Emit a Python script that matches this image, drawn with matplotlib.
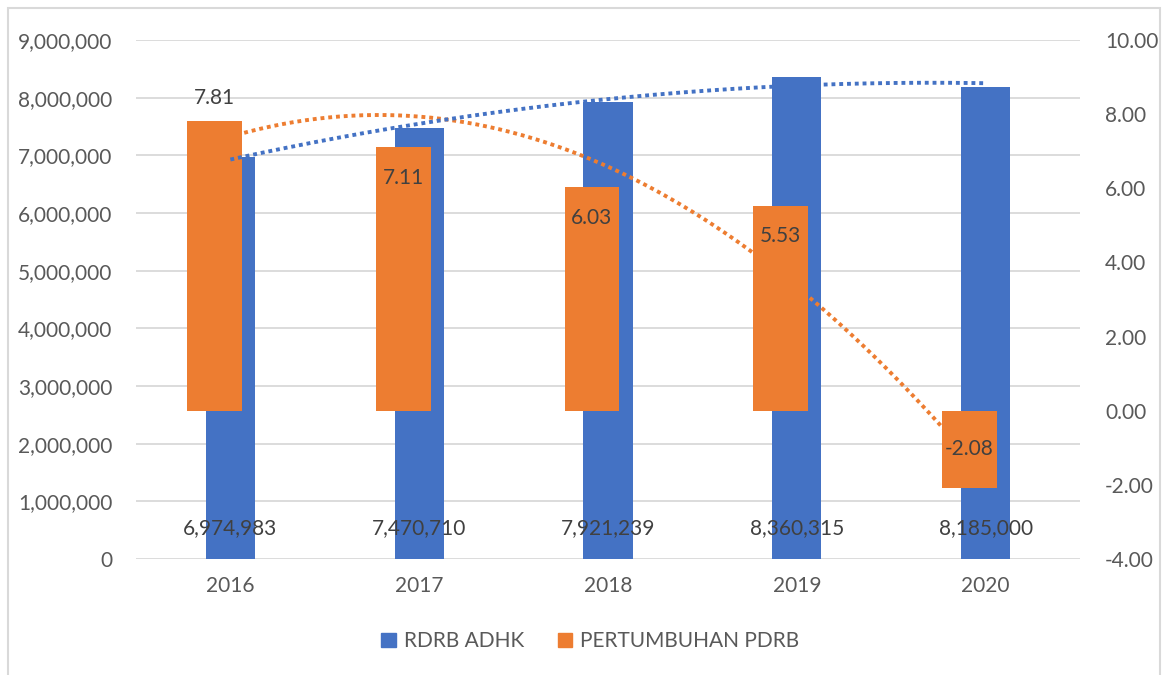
import numpy as np
import matplotlib.pyplot as plt
from matplotlib.patches import Rectangle

plt.rcParams['font.family'] = ['Lato', 'DejaVu Sans']

years = ['2016', '2017', '2018', '2019', '2020']
adhk = [6974983, 7470710, 7921239, 8360315, 8185000]
growth = [7.81, 7.11, 6.03, 5.53, -2.08]

blue = '#4472C4'
orange = '#ED7D31'
tick_col = '#595959'
lab_col = '#404040'

fig = plt.figure(figsize=(11.69, 6.75), dpi=100)
ax = fig.add_axes([0.1163, 0.1719, 0.8076, 0.7688])
ax2 = ax.twinx()

x = np.arange(len(years))
off = -0.085

# bars: ADHK on left axis, growth on right axis
ax.bar(x, adhk, width=0.26, color=blue, zorder=2)
ax2.bar(x + off, growth, width=0.29, color=orange, zorder=3)

# polynomial (order 2) trendlines
xs = np.linspace(0, 4, 200)
pb = np.polyfit(x, adhk, 2)
po = np.polyfit(x, growth, 2)
ax2.plot(xs + off, np.polyval(po, xs), color=orange, lw=2.8,
         linestyle=(0, (1, 1)), dash_capstyle='butt', zorder=2)
ax2.plot(xs, np.polyval(pb, xs), color=blue, lw=2.8,
         linestyle=(0, (1, 1)), dash_capstyle='butt', zorder=4,
         transform=ax.transData)

ax.set_ylim(0, 9000000)
ax.set_yticks(np.arange(0, 9000001, 1000000))
ax.set_yticklabels([f'{v:,}' for v in range(0, 9000001, 1000000)])
ax2.set_ylim(-4, 10)
ax2.set_yticks(np.arange(-4, 11, 2))
ax2.set_yticklabels([f'{v:.2f}' for v in np.arange(-4, 11, 2)])
ax.set_xlim(-0.5, 4.5)
ax.set_xticks(x)
ax.set_xticklabels(years)

ax.grid(axis='y', color='#D9D9D9', lw=1.3, zorder=0)
ax.set_axisbelow(True)
for a in (ax, ax2):
    for s in a.spines.values():
        s.set_visible(False)
    a.tick_params(length=0, labelsize=15, labelcolor=tick_col)
ax.tick_params(axis='y', pad=17)
ax2.tick_params(axis='y', pad=18)
ax.tick_params(axis='x', pad=12)

# data labels
for i, v in enumerate(adhk):
    ax2.text(x[i], 0.06, f'{v:,}', transform=ax2.get_xaxis_transform(),
             ha='center', va='center', fontsize=15, color=lab_col, zorder=5)
for i, v in enumerate(growth):
    if i == 0:
        dy = 17
    elif v < 0:
        dy = 0
    else:
        dy = -22
    yv = v if v >= 0 else v / 2
    ax2.annotate(f'{v:.2f}', (x[i] + off, yv), xytext=(0, dy),
                 textcoords='offset points', ha='center', va='center',
                 fontsize=15, color=lab_col, zorder=5)

# legend
h1 = Rectangle((0, 0), 1, 1, color=blue)
h2 = Rectangle((0, 0), 1, 1, color=orange)
fig.legend([h1, h2], ['RDRB ADHK', 'PERTUMBUHAN PDRB'], loc='center',
           bbox_to_anchor=(0.505, 0.05), ncol=2, frameon=False, fontsize=15,
           labelcolor=tick_col, handlelength=0.7, handleheight=0.7,
           handletextpad=0.4, columnspacing=1.6)

# chart border
fig.patches.append(Rectangle((8 / 1169, -0.01), 1152 / 1169, 0.998,
                             transform=fig.transFigure, fill=False,
                             edgecolor='#D9D9D9', lw=1.5))

fig.savefig('out.png', dpi=100)
